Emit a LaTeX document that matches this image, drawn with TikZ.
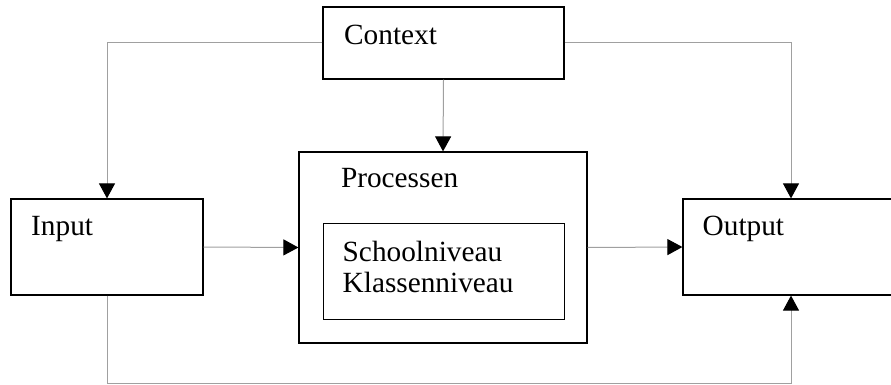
\documentclass[tikz,border=0pt]{standalone}
\usepackage{fontspec}
\setmainfont{Liberation Serif}
\usetikzlibrary{arrows.meta}
\definecolor{connc}{HTML}{A0A0A0}
\tikzset{
  box/.style={draw=black, line width=1.2pt, rectangle, inner sep=0pt, fill=none},
  lbl/.style={anchor=base west, inner sep=0pt, font=\fontsize{29.3}{33}\selectfont},
  conn/.style={draw=connc, line width=1pt, -{Triangle[length=15pt,width=16pt,color=black]}},
  plain/.style={draw=connc, line width=1pt}
}
\begin{document}
\begin{tikzpicture}[x=1pt,y=-1pt]
\clip (0,0) rectangle (891,385);
\useasboundingbox (0,0) rectangle (891,385);
% boxes
\node[box, minimum width=241pt, minimum height=72pt] (ctx) at (443.5,43) {};
\node[box, minimum width=192pt, minimum height=96pt] (inp) at (107,247) {};
\node[box, minimum width=288pt, minimum height=191pt] (proc) at (443,247.5) {};
\node[box, minimum width=241pt, minimum height=96pt, line width=1pt] (inner) at (443.5,271) {};
\node[box, minimum width=216pt, minimum height=96pt] (out) at (791,247) {};
% labels
\node[lbl] (tctx) at (344,44.3) {Context};
\node[lbl] (tinp) at (31,235.7) {Input};
\node[lbl] (tout) at (702.5,235.7) {Output};
\node[lbl] (tproc) at (340.8,187) {Processen};
\node[lbl] (tsch) at (342.5,261) {Schoolniveau};
\node[lbl] (tkla) at (342.5,292.7) {Klassenniveau};
% connectors
\coordinate (bot) at (0,383);
\draw[conn] (ctx.west) -| (inp.north);
\draw[conn] (ctx.south) -- (proc.north);
\draw[conn] (ctx.east) -| (out.north);
\draw[conn] (inp.east) -- (proc.west);
\draw[conn] (proc.east) -- (out.west);
\draw[conn] (inp.south) -- (inp.south |- bot) -| (out.south);
\end{tikzpicture}
\end{document}
